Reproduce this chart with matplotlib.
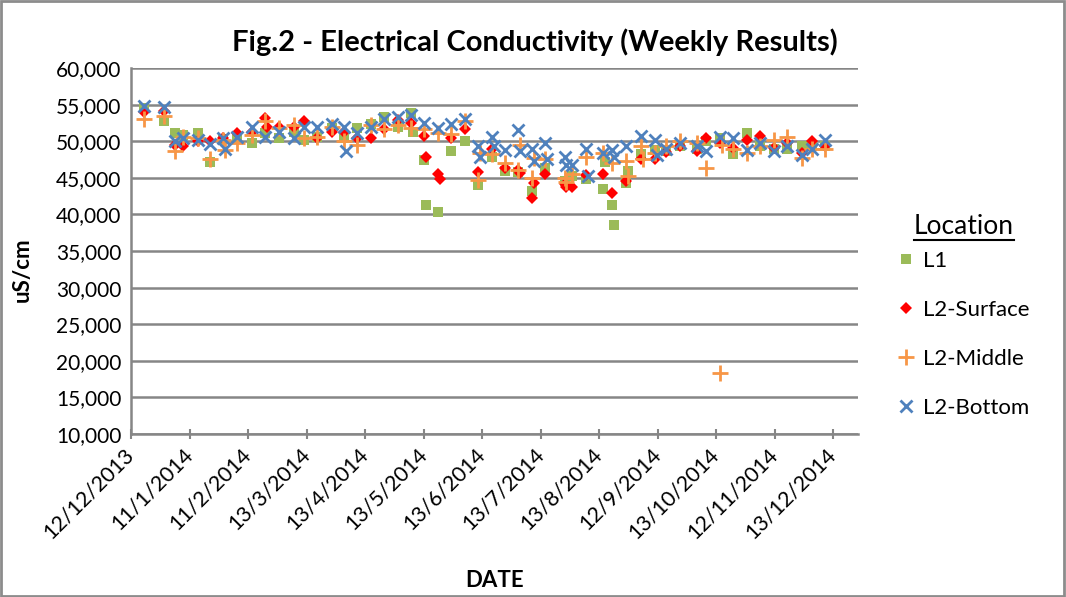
import numpy as np
import pandas as pd
import matplotlib
matplotlib.use("Agg")
import matplotlib.pyplot as plt
import matplotlib.dates as mdates
from matplotlib.lines import Line2D
from matplotlib.patches import Rectangle

plt.rcParams['font.family'] = ['Lato', 'DejaVu Sans']

nan = np.nan

# sample dates (weekly, with a few repeat samples)
dates = ['2013-12-19', '2013-12-29', '2014-01-04', '2014-01-08', '2014-01-16', '2014-01-22',
         '2014-01-29', '2014-01-30', '2014-02-05', '2014-02-13', '2014-02-20', '2014-02-21',
         '2014-02-27', '2014-03-07', '2014-03-12', '2014-03-19', '2014-03-27', '2014-04-02',
         '2014-04-03', '2014-04-09', '2014-04-16', '2014-04-23', '2014-04-30', '2014-05-07',
         '2014-05-08', '2014-05-14', '2014-05-15', '2014-05-21', '2014-05-22', '2014-05-28',
         '2014-06-04', '2014-06-11', '2014-06-12', '2014-06-18', '2014-06-19', '2014-06-25',
         '2014-07-02', '2014-07-03', '2014-07-09', '2014-07-10', '2014-07-16', '2014-07-17',
         '2014-07-26', '2014-07-27', '2014-07-30', '2014-08-06', '2014-08-07', '2014-08-15',
         '2014-08-16', '2014-08-20', '2014-08-21', '2014-08-27', '2014-08-28', '2014-09-04',
         '2014-09-05', '2014-09-11', '2014-09-12', '2014-09-17', '2014-09-24', '2014-10-03',
         '2014-10-08', '2014-10-15', '2014-10-16', '2014-10-22', '2014-10-29', '2014-11-05',
         '2014-11-12', '2014-11-19', '2014-11-27', '2014-12-02', '2014-12-09']

l1 = [54500, 52700, 51100, 50900, 51100, 47200,
      50300, nan, 50600, 49700, 51100, nan,
      50400, 51300, 50200, 50600, 51800, 50400,
      nan, 51800, 52300, 53300, 52000, 53800,
      51300, 47400, 41300, 40300, nan, 48600,
      50000, 44000, nan, 47900, nan, 45900,
      45800, nan, 43200, nan, 46400, nan,
      44500, nan, 45200, 44800, nan, 43500,
      47100, 41300, 38500, 44300, 45900, 48200,
      nan, 48800, nan, 48600, 49400, 49000,
      50000, 50400, nan, 48300, 51100, 49300,
      48900, 49000, 49300, 49400, 49400]

l2_surface = [54000, 54100, 49500, 49300, 50000, 50000,
              50400, nan, 51100, 51300, 53200, 52000,
              52000, 52000, 52700, 50400, 51300, 51300,
              nan, 50400, 50400, 51700, 52900, 52500,
              nan, 50700, 47900, 45500, 44800, 50400,
              51700, 45800, nan, 48900, nan, 46300,
              46100, 45700, 42300, 44300, 45500, nan,
              44100, 43800, 43800, 45400, nan, 45500,
              nan, 42900, nan, 44500, nan, 47600,
              nan, 47600, nan, 48500, 49400, 48600,
              50500, 49800, nan, 49100, 50100, 50700,
              49100, 49700, 48400, 50000, 49400]

l2_middle = [53000, 53500, 48600, 50600, 50400, 47600,
             50200, 48800, 49700, 50900, 52700, nan,
             51800, 52200, 50400, 50600, 52000, 50000,
             nan, 49500, 52200, 51600, 52200, 51800,
             nan, 51700, nan, 51100, nan, 51000,
             52700, 44700, 48400, 48200, nan, 47000,
             46000, 49500, 45000, 47700, 47500, nan,
             45000, 44400, 45500, 47900, nan, 48400,
             nan, 47000, nan, 47300, 45200, 49300,
             47600, 48400, nan, 49400, 50000, 49700,
             46400, 18300, 49500, 48900, 48400, 49400,
             50100, 50600, 47700, 49000, 48900]

l2_bottom = [54800, 54700, 50000, 50500, 50200, 49600,
             50400, 49000, 50600, 52000, 50600, nan,
             51200, 50400, 52000, 52000, 52400, 52000,
             48600, 51100, 52000, 53100, 53300, 53600,
             nan, 52500, nan, 51800, nan, 52300,
             53000, 49300, 47900, 50600, 49300, 48800,
             51500, 48600, 49000, 47300, 49700, 47500,
             47900, 46800, 46800, 49000, 45200, 48400,
             nan, 48800, 47900, 49300, nan, 50700,
             nan, 50200, 48100, 49000, 49700, 49400,
             48600, 50600, nan, 50400, 48800, 49700,
             48600, 49400, 48100, 49000, 50200]

tick_labels = ['12/12/2013', '11/1/2014', '11/2/2014', '13/3/2014', '13/4/2014',
               '13/5/2014', '13/6/2014', '13/7/2014', '13/8/2014', '12/9/2014',
               '13/10/2014', '12/11/2014', '13/12/2014']

x = pd.to_datetime(dates)
start = pd.Timestamp('2013-12-12')
end = pd.Timestamp('2014-12-13')

fig = plt.figure(figsize=(10.66, 5.97), dpi=100)
ax = fig.add_axes([131/1066, 1-434/597, (858-131)/1066, (434-68)/597])

ax.plot(x, l1, 's', color='#9BBB59', ms=7.5, mew=0, label='L1', zorder=3)
ax.plot(x, l2_surface, 'D', color='#FF0000', ms=6.5, mew=0, label='L2-Surface', zorder=4)
ax.plot(x, l2_middle, '+', color='#F79646', ms=11, mew=2, label='L2-Middle', zorder=5)
ax.plot(x, l2_bottom, 'x', color='#4F81BD', ms=9, mew=2, label='L2-Bottom', zorder=6)

ax.set_ylim(10000, 60000)
ax.set_yticks(np.arange(10000, 60001, 5000))
ax.yaxis.set_major_formatter(matplotlib.ticker.FuncFormatter(lambda v, p: f'{int(v):,}'))
ax.set_xlim(mdates.date2num(start), mdates.date2num(start) + 379)
ticks = mdates.date2num(start) + np.arange(len(tick_labels)) * (end - start).days / 12
ax.set_xticks(ticks)
ax.set_xticklabels(tick_labels, rotation=45, ha='right', va='center',
                   rotation_mode='anchor', fontsize=15.5)
ax.tick_params(axis='y', length=0, labelsize=15, pad=7)
ax.tick_params(axis='x', direction='inout', length=7, width=1.5, color='#868686', pad=9)
ax.grid(axis='y', color='#868686', lw=1.8)
ax.set_axisbelow(True)
for s in ['top', 'right']:
    ax.spines[s].set_visible(False)
for s in ['left', 'bottom']:
    ax.spines[s].set_color('#868686')
    ax.spines[s].set_linewidth(1.8)

ax.set_xlabel('DATE', fontsize=16, fontweight='bold', labelpad=20)
ax.set_ylabel('uS/cm', fontsize=16, fontweight='bold')
ax.yaxis.set_label_coords(-0.135, 0.45)
fig.text(535/1066, 1-42/597, 'Fig.2 - Electrical Conductivity (Weekly Results)',
         fontsize=21, fontweight='bold', ha='center', va='center')

# legend title drawn separately so it can be underlined
title = fig.text(964/1066, 1-226/597, 'Location', fontsize=19, ha='center', va='center')
leg = fig.legend(loc='upper left', bbox_to_anchor=(899/1066, 1-251/597), frameon=False,
                 fontsize=16, labelspacing=1.3, handlelength=0.6, handletextpad=0.5,
                 borderaxespad=0, borderpad=0)
fig.canvas.draw()
tb = title.get_window_extent()
inv = fig.transFigure.inverted()
(x0, y0), (x1, y1) = inv.transform([(tb.x0, tb.y0), (tb.x1, tb.y1)])
fig.add_artist(Line2D([x0, x1], [y0 - 0.003, y0 - 0.003], color='black', lw=1.5,
                      transform=fig.transFigure))

fig.add_artist(Rectangle((0.001, 0.002), 0.997, 0.996, fill=False, edgecolor='#8C8C8C',
                         lw=2, transform=fig.transFigure))
fig.savefig('out.png', dpi=100)
